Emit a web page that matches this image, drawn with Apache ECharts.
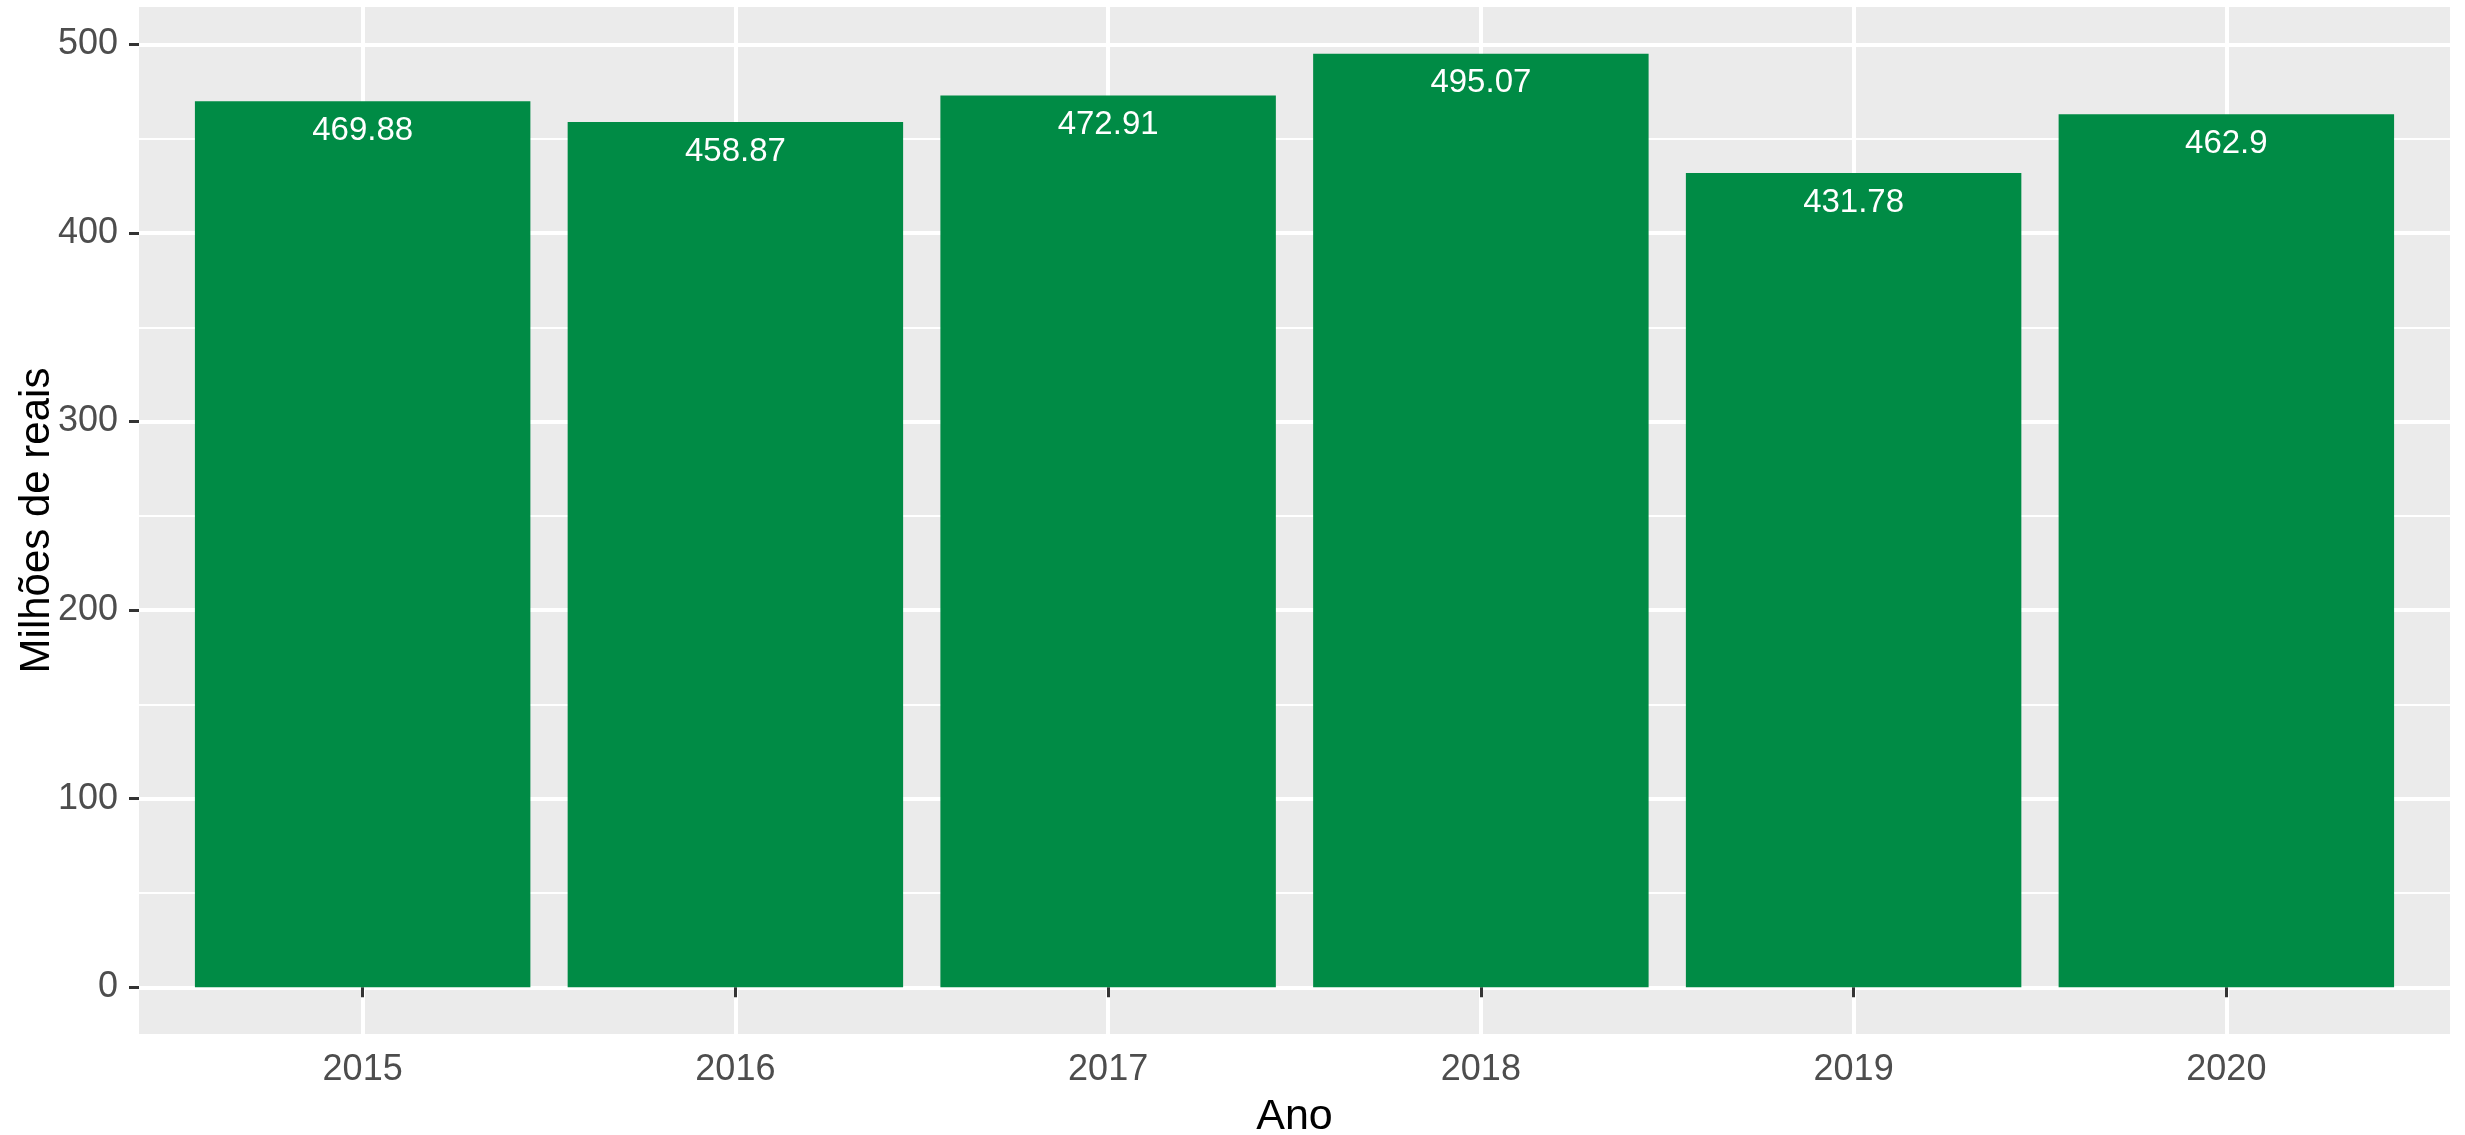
<!DOCTYPE html>
<html>
<head>
<meta charset="utf-8">
<script src="https://cdn.jsdelivr.net/npm/echarts@6/dist/echarts.min.js"></script>
<style>
html,body{margin:0;padding:0;background:#fff;overflow:hidden;}
#chart{width:2465px;height:1135px;}
</style>
</head>
<body>
<div id="chart"></div>
<script>
const years = ['2015', '2016', '2017', '2018', '2019', '2020'];
const values = [469.88, 458.87, 472.91, 495.07, 431.78, 462.9];
const yMajorTicks = [0, 100, 200, 300, 400, 500];
const yMinorTicks = [50, 150, 250, 350, 450];
const xPositions = [1, 2, 3, 4, 5, 6];

const FONT = 'Liberation Sans, Arial, sans-serif';
const dataMax = Math.max.apply(null, values);
const yMin = -0.05 * dataMax;
const yMax = dataMax * 1.05;

const gridLeft = 139, gridTop = 7, gridWidth = 2311, gridHeight = 1027;
const xUnit = gridWidth / 6.2;

const chart = echarts.init(document.getElementById('chart'), null, {renderer: 'canvas', width: 2465, height: 1135});
chart.setOption({
  animation: false,
  backgroundColor: '#FFFFFF',
  grid: {
    left: gridLeft, top: gridTop, width: gridWidth, height: gridHeight,
    show: true, backgroundColor: '#EBEBEB', borderWidth: 0, containLabel: false,
    outerBoundsMode: 'none'
  },
  xAxis: {
    type: 'value', min: 0.4, max: 6.6,
    axisLine: {show: false},
    axisTick: {show: true, customValues: xPositions, length: 10, lineStyle: {color: '#333333', width: 3}},
    axisLabel: {
      customValues: xPositions, margin: 18, fontSize: 36, color: '#4D4D4D', fontFamily: FONT,
      formatter: function (v) { return years[Math.round(v) - 1]; }
    },
    splitLine: {show: true, lineStyle: {color: '#FFFFFF', width: 4}},
    name: 'Ano', nameLocation: 'middle', nameGap: 62, nameMoveOverlap: false,
    nameTextStyle: {fontSize: 43, color: '#000000', fontFamily: FONT}
  },
  yAxis: [
    {
      type: 'value', min: yMin, max: yMax, position: 'left',
      axisLine: {show: false},
      axisTick: {show: false, customValues: yMinorTicks},
      axisLabel: {show: false},
      splitLine: {show: true, lineStyle: {color: '#FFFFFF', width: 2}}
    },
    {
      type: 'value', min: yMin, max: yMax, position: 'left', offset: 0,
      axisLine: {show: false},
      axisTick: {show: true, customValues: yMajorTicks, length: 10, lineStyle: {color: '#333333', width: 3}},
      axisLabel: {customValues: yMajorTicks, margin: 21, fontSize: 36, color: '#4D4D4D', fontFamily: FONT},
      splitLine: {show: true, lineStyle: {color: '#FFFFFF', width: 4}},
      name: 'Milhões de reais', nameLocation: 'middle', nameGap: 81, nameRotate: 90, nameMoveOverlap: false,
      nameTextStyle: {fontSize: 42, color: '#000000', fontFamily: FONT}
    }
  ],
  series: [{
    type: 'bar',
    yAxisIndex: 1,
    z: 5,
    barWidth: 0.9 * xUnit,
    data: xPositions.map(function (x, i) { return [x, values[i]]; }),
    itemStyle: {color: '#008B45'},
    label: {
      show: true, position: 'insideTop', distance: 13,
      fontSize: 33, color: '#FFFFFF', fontFamily: FONT,
      formatter: function (p) { return String(p.value[1]); }
    }
  }]
});
</script>
</body>
</html>
